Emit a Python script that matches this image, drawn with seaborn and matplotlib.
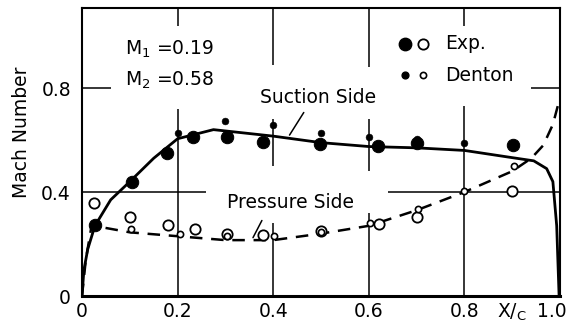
import numpy as np
import pandas as pd
import matplotlib
matplotlib.use("Agg")
import matplotlib.pyplot as plt
import matplotlib.transforms as mtransforms
import seaborn as sns

# ==========================================
# Data
# ==========================================

# Suction side calculation (solid line)
suction_x = [0, 0.004, 0.012, 0.027, 0.06, 0.1, 0.15, 0.2, 0.275, 0.4,
             0.5, 0.6, 0.7, 0.8, 0.89, 0.945, 0.972, 0.985, 0.993, 0.998]
suction_y = [0, 0.1, 0.18, 0.27, 0.37, 0.44, 0.53, 0.605, 0.64, 0.615,
             0.59, 0.575, 0.57, 0.56, 0.535, 0.52, 0.49, 0.44, 0.27, 0.0]

# Pressure side calculation (dashed line)
pressure_x = [0, 0.008, 0.02, 0.04, 0.1, 0.2, 0.3, 0.4, 0.5, 0.6,
              0.7, 0.8, 0.9, 0.94, 0.965, 0.985, 0.998]
pressure_y = [0, 0.14, 0.27, 0.265, 0.245, 0.23, 0.215, 0.215, 0.24, 0.27,
              0.33, 0.40, 0.48, 0.53, 0.58, 0.66, 0.75]

# Experiment, suction side (large filled)
exp_suc_x = [0.027, 0.104, 0.177, 0.233, 0.303, 0.379, 0.498, 0.62, 0.70, 0.902]
exp_suc_y = [0.273, 0.44, 0.55, 0.61, 0.613, 0.594, 0.585, 0.578, 0.59, 0.58]

# Experiment, pressure side (large open)
exp_pre_x = [0.026, 0.10, 0.18, 0.236, 0.303, 0.379, 0.50, 0.622, 0.70, 0.90]
exp_pre_y = [0.356, 0.305, 0.273, 0.258, 0.238, 0.235, 0.25, 0.277, 0.305, 0.405]

# Denton, suction side (small filled)
den_suc_x = [0.2, 0.3, 0.4, 0.5, 0.6, 0.7, 0.8]
den_suc_y = [0.628, 0.675, 0.658, 0.627, 0.61, 0.605, 0.59]

# Denton, pressure side (small open)
den_pre_x = [0.102, 0.205, 0.303, 0.402, 0.50, 0.603, 0.703, 0.80, 0.904]
den_pre_y = [0.258, 0.24, 0.23, 0.23, 0.248, 0.28, 0.335, 0.405, 0.50]

x_ticks = [0, 0.2, 0.4, 0.6, 0.8, 1.0]
x_tick_labels = ["0", "0.2", "0.4", "0.6", "0.8", "1.0"]
y_ticks = [0, 0.4, 0.8]
y_tick_labels = ["0", "0.4", "0.8"]

# ==========================================
# Style
# ==========================================

sns.set_style("white")
plt.rcParams["font.family"] = ["DejaVu Sans"]
plt.rcParams["mathtext.fontset"] = "dejavusans"
plt.rcParams["text.color"] = "black"
plt.rcParams["axes.labelcolor"] = "black"

FS = 13.5

fig = plt.figure(figsize=(5.75, 3.26), dpi=100)
ax = fig.add_axes([0.1426, 0.092, 0.8314, 0.8835])

# partial grid segments, as drawn on the original
grid_kw = dict(color="black", linewidth=1.1, zorder=1)
ax.vlines(0.2, 0, 0.72, **grid_kw)
ax.vlines(0.2, 1.04, 1.11, **grid_kw)
ax.vlines(0.4, 0, 0.28, **grid_kw)
ax.vlines(0.4, 0.5, 0.68, **grid_kw)
ax.vlines(0.4, 0.89, 1.11, **grid_kw)
ax.vlines(0.6, 0, 0.32, **grid_kw)
ax.vlines(0.6, 0.48, 0.68, **grid_kw)
ax.vlines(0.6, 0.88, 1.11, **grid_kw)
ax.vlines(0.8, 0, 0.73, **grid_kw)
ax.vlines(0.8, 1.04, 1.11, **grid_kw)
ax.hlines(0.4, 0, 0.26, **grid_kw)
ax.hlines(0.4, 0.64, 1.0, **grid_kw)
ax.hlines(0.8, 0, 0.06, **grid_kw)
ax.hlines(0.8, 0.94, 1.0, **grid_kw)

# ==========================================
# Lines
# ==========================================

suction_df = pd.DataFrame({"x": suction_x, "y": suction_y})
pressure_df = pd.DataFrame({"x": pressure_x, "y": pressure_y})

sns.lineplot(data=suction_df, x="x", y="y", sort=False, color="black",
             linewidth=2.0, ax=ax, zorder=3)
sns.lineplot(data=pressure_df, x="x", y="y", sort=False, color="black",
             linewidth=1.8, linestyle=(0, (5, 3.5)), ax=ax, zorder=3)

# ==========================================
# Points
# ==========================================

sns.scatterplot(x=exp_suc_x, y=exp_suc_y, s=80, color="black",
                edgecolor="black", ax=ax, zorder=4)
sns.scatterplot(x=exp_pre_x, y=exp_pre_y, s=55, facecolor="white",
                edgecolor="black", linewidth=1.3, ax=ax, zorder=4)
sns.scatterplot(x=den_suc_x, y=den_suc_y, s=24, color="black",
                edgecolor="black", ax=ax, zorder=5)
sns.scatterplot(x=den_pre_x, y=den_pre_y, s=20, facecolor="white",
                edgecolor="black", linewidth=1.2, ax=ax, zorder=5)

# legend drawn by hand, like the original
ax.scatter([0.676], [0.97], s=80, color="black", zorder=5)
ax.scatter([0.714], [0.97], s=55, facecolor="white", edgecolor="black",
           linewidth=1.3, zorder=5)
ax.scatter([0.676], [0.85], s=24, color="black", zorder=5)
ax.scatter([0.714], [0.85], s=20, facecolor="white", edgecolor="black",
           linewidth=1.2, zorder=5)
ax.text(0.76, 0.97, "Exp.", fontsize=FS, va="center", ha="left")
ax.text(0.76, 0.85, "Denton", fontsize=FS, va="center", ha="left")

# ==========================================
# Annotations
# ==========================================

ax.text(0.09, 0.95, "M$_1$ =0.19", fontsize=FS, va="center", ha="left")
ax.text(0.09, 0.83, "M$_2$ =0.58", fontsize=FS, va="center", ha="left")

ax.text(0.372, 0.765, "Suction Side", fontsize=FS, va="center", ha="left")
ax.annotate("", xy=(0.431, 0.61), xytext=(0.467, 0.715),
            arrowprops=dict(arrowstyle="-", color="black", lw=1.1))

ax.text(0.303, 0.36, "Pressure Side", fontsize=FS, va="center", ha="left")
ax.annotate("", xy=(0.355, 0.215), xytext=(0.379, 0.30),
            arrowprops=dict(arrowstyle="-", color="black", lw=1.1))

# ==========================================
# Axes
# ==========================================

ax.set_xlim(0, 1.0)
ax.set_ylim(0, 1.108)
ax.set_xticks(x_ticks)
ax.set_xticklabels(x_tick_labels)
ax.set_yticks(y_ticks)
ax.set_yticklabels(y_tick_labels)
ax.tick_params(length=0, labelsize=FS, colors="black")
ax.tick_params(axis="x", pad=4)
ax.tick_params(axis="y", pad=8)
ax.set_xlabel("")
ax.set_ylabel("Mach Number", fontsize=FS, color="black")
ax.yaxis.set_label_coords(-0.107, 0.569)

# last x label sits a little left of its tick in the original
last = ax.get_xticklabels()[-1]
last.set_transform(last.get_transform()
                   + mtransforms.ScaledTranslation(-0.08, 0, fig.dpi_scale_trans))

trans = mtransforms.blended_transform_factory(ax.transData, ax.transAxes)
ax.text(0.9, -0.058, "X/$_\\mathregular{C}$", fontsize=FS, ha="center",
        va="center", transform=trans)

for side in ["left", "right", "top", "bottom"]:
    ax.spines[side].set_color("black")
    ax.spines[side].set_linewidth(1.5)
ax.spines["bottom"].set_linewidth(2.2)

fig.savefig("out.png", dpi=100)
